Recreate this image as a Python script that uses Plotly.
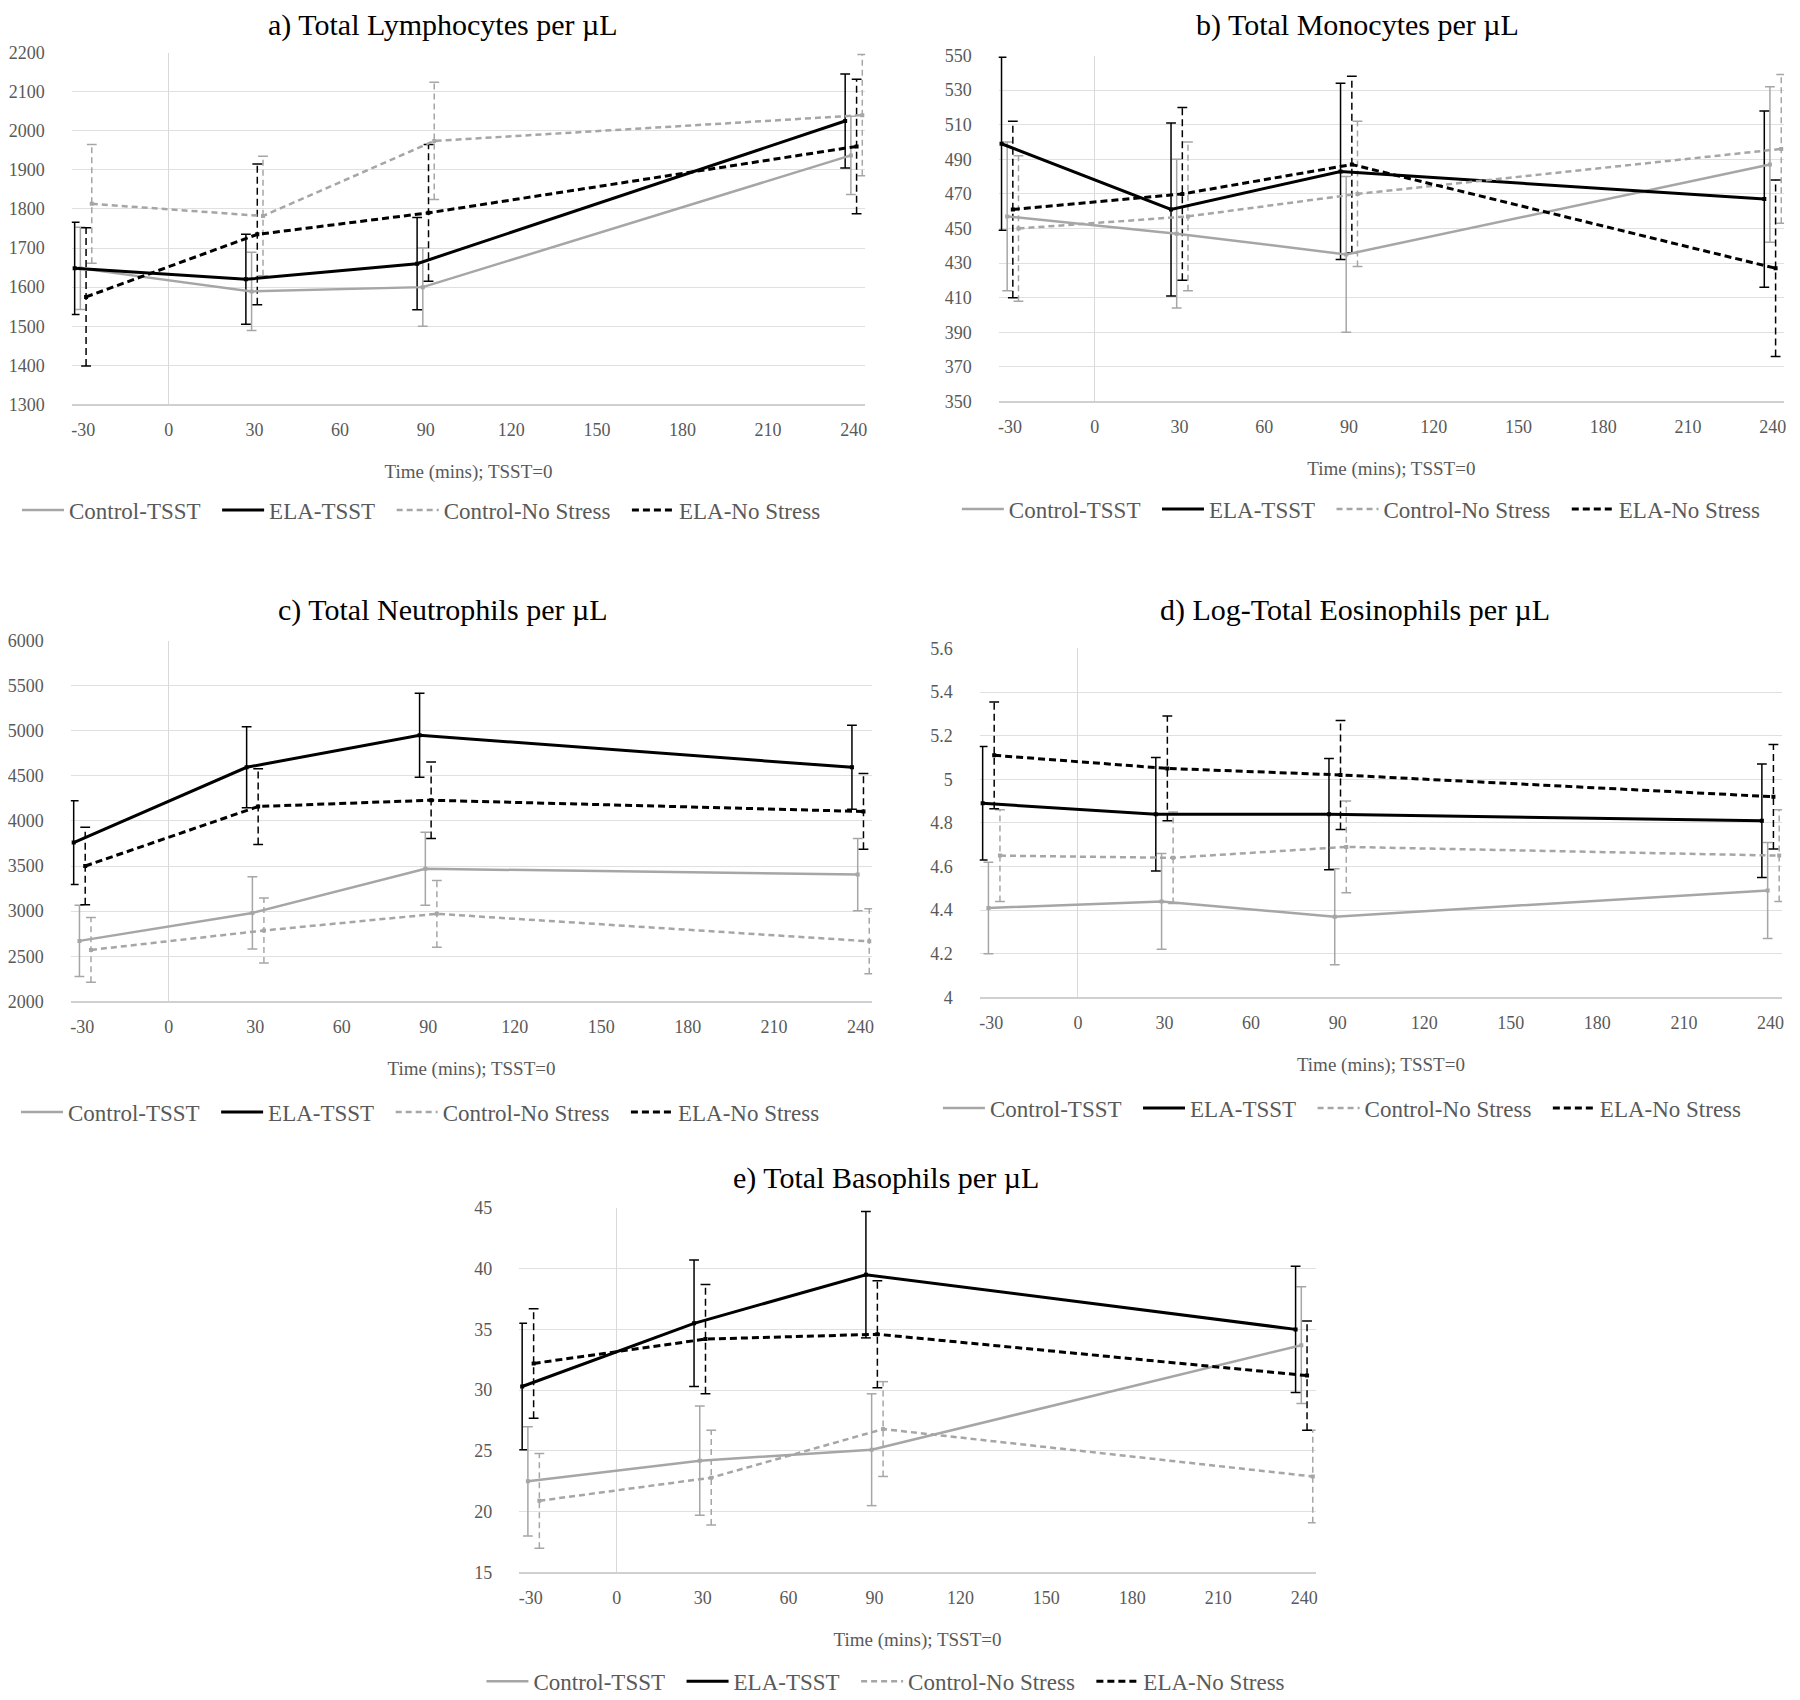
import plotly.graph_objects as go

# Time points (mins), TSST=0
times = [-30, 30, 90, 240]
x_ticks = [-30, 0, 30, 60, 90, 120, 150, 180, 210, 240]
x_tick_labels = ["-30", "0", "30", "60", "90", "120", "150", "180", "210", "240"]
series = ["Control-TSST", "ELA-TSST", "Control-No Stress", "ELA-No Stress"]

# a) Total Lymphocytes per uL
lym_ctrl_tsst = [1648, 1589, 1600, 1937]
lym_ctrl_tsst_err = [105, 100, 100, 100]
lym_ela_tsst = [1648, 1620, 1660, 2025]
lym_ela_tsst_err = [118, 115, 118, 120]
lym_ctrl_ns = [1813, 1782, 1974, 2040]
lym_ctrl_ns_err = [152, 153, 150, 155]
lym_ela_ns = [1575, 1735, 1790, 1960]
lym_ela_ns_err = [177, 180, 175, 172]

# b) Total Monocytes per uL
mono_ctrl_tsst = [457, 447, 435, 487]
mono_ctrl_tsst_err = [43, 43, 45, 45]
mono_ela_tsst = [499, 461, 483, 467]
mono_ela_tsst_err = [50, 50, 51, 51]
mono_ctrl_ns = [450, 457, 470, 496]
mono_ctrl_ns_err = [42, 43, 42, 43]
mono_ela_ns = [461, 470, 487, 427]
mono_ela_ns_err = [51, 50, 51, 51]

# c) Total Neutrophils per uL
neut_ctrl_tsst = [2670, 2980, 3470, 3405]
neut_ctrl_tsst_err = [395, 400, 405, 400]
neut_ela_tsst = [3760, 4595, 4950, 4595]
neut_ela_tsst_err = [465, 450, 465, 465]
neut_ctrl_ns = [2570, 2785, 2970, 2665]
neut_ctrl_ns_err = [360, 360, 370, 360]
neut_ela_ns = [3500, 4160, 4230, 4105]
neut_ela_ns_err = [430, 420, 425, 420]

# d) Log-Total Eosinophils per uL
eos_ctrl_tsst = [4.41, 4.44, 4.37, 4.49]
eos_ctrl_tsst_err = [0.21, 0.22, 0.22, 0.22]
eos_ela_tsst = [4.89, 4.84, 4.84, 4.81]
eos_ela_tsst_err = [0.26, 0.26, 0.255, 0.26]
eos_ctrl_ns = [4.65, 4.64, 4.69, 4.65]
eos_ctrl_ns_err = [0.21, 0.21, 0.21, 0.21]
eos_ela_ns = [5.11, 5.05, 5.02, 4.92]
eos_ela_ns_err = [0.245, 0.24, 0.25, 0.24]

# e) Total Basophils per uL
baso_ctrl_tsst = [22.5, 24.2, 25.1, 33.7]
baso_ctrl_tsst_err = [4.5, 4.5, 4.6, 4.8]
baso_ela_tsst = [30.3, 35.5, 39.5, 35.0]
baso_ela_tsst_err = [5.2, 5.2, 5.2, 5.2]
baso_ctrl_ns = [20.9, 22.8, 26.8, 22.9]
baso_ctrl_ns_err = [3.9, 3.9, 3.9, 3.8]
baso_ela_ns = [32.2, 34.2, 34.6, 31.2]
baso_ela_ns_err = [4.5, 4.5, 4.4, 4.5]

titles = [
    "a) Total Lymphocytes per µL",
    "b) Total Monocytes per µL",
    "c) Total Neutrophils per µL",
    "d) Log-Total Eosinophils per µL",
    "e) Total Basophils per µL",
]

panels = [
    [(lym_ctrl_tsst, lym_ctrl_tsst_err), (lym_ela_tsst, lym_ela_tsst_err),
     (lym_ctrl_ns, lym_ctrl_ns_err), (lym_ela_ns, lym_ela_ns_err)],
    [(mono_ctrl_tsst, mono_ctrl_tsst_err), (mono_ela_tsst, mono_ela_tsst_err),
     (mono_ctrl_ns, mono_ctrl_ns_err), (mono_ela_ns, mono_ela_ns_err)],
    [(neut_ctrl_tsst, neut_ctrl_tsst_err), (neut_ela_tsst, neut_ela_tsst_err),
     (neut_ctrl_ns, neut_ctrl_ns_err), (neut_ela_ns, neut_ela_ns_err)],
    [(eos_ctrl_tsst, eos_ctrl_tsst_err), (eos_ela_tsst, eos_ela_tsst_err),
     (eos_ctrl_ns, eos_ctrl_ns_err), (eos_ela_ns, eos_ela_ns_err)],
    [(baso_ctrl_tsst, baso_ctrl_tsst_err), (baso_ela_tsst, baso_ela_tsst_err),
     (baso_ctrl_ns, baso_ctrl_ns_err), (baso_ela_ns, baso_ela_ns_err)],
]

# y axis ranges and tick steps for each panel
y_ranges = [(1300, 2200, 100), (350, 550, 20), (2000, 6000, 500), (4, 5.6, 0.2), (15, 45, 5)]

# line styles; "shift" nudges each group sideways like the original chart
styles = {
    "Control-TSST": dict(color="#a6a6a6", dash="solid", width=2.5, shift=-1),
    "ELA-TSST": dict(color="#000000", dash="solid", width=3, shift=-3),
    "Control-No Stress": dict(color="#a6a6a6", dash="6px,4px", width=2.5, shift=3),
    "ELA-No Stress": dict(color="#000000", dash="7px,4px", width=3, shift=1),
}

W, H = 1800, 1700

# plot areas in pixels: (left, right, top, bottom)
boxes = [
    (60, 856, 35, 391),
    (990, 1778, 38, 388),
    (59, 863, 630, 995),
    (971, 1776, 638, 991),
    (509, 1308, 1204, 1573),
]
title_pos = [(432, 7), (1350, 7), (432, 599), (1347, 599), (877, 1174)]
legend_pos = [(5, 498), (948, 497), (4, 1107), (929, 1103), (471, 1683)]

serif = "Liberation Serif"
grey_text = "#595959"
pad = "\u00a0\u00a0"

fig = go.Figure()
layout = {}

for k, (data, box) in enumerate(zip(panels, boxes)):
    n = "" if k == 0 else str(k + 1)
    xa, ya = "x" + n, "y" + n
    leg = "legend" + n

    # error bars first so the lines sit on top
    for name, (vals, errs) in zip(series, data):
        st = styles[name]
        ex, ey = [], []
        for t, v, e in zip(times, vals, errs):
            ex += [t + st["shift"], t + st["shift"], None]
            ey += [v - e, v + e, None]
        fig.add_trace(go.Scatter(
            x=ex, y=ey, mode="lines+markers", xaxis=xa, yaxis=ya,
            line=dict(color=st["color"], width=1.5, dash=st["dash"]),
            marker=dict(symbol="line-ew", size=7, line=dict(color=st["color"], width=1.5)),
            showlegend=False, hoverinfo="skip"))

    for name, (vals, errs) in zip(series, data):
        st = styles[name]
        fig.add_trace(go.Scatter(
            x=[t + st["shift"] for t in times], y=vals, name=name,
            mode="lines+markers", xaxis=xa, yaxis=ya, showlegend=False,
            line=dict(color=st["color"], width=st["width"], dash=st["dash"]),
            marker=dict(symbol="square", size=4, color=st["color"])))

    # legend keys: line only, like the original
    for i, name in enumerate(series):
        st = styles[name]
        fig.add_trace(go.Scatter(
            x=[None], y=[None], name=name + (pad if i < 3 else ""),
            mode="lines", xaxis=xa, yaxis=ya, legend=leg,
            line=dict(color=st["color"], width=st["width"], dash=st["dash"])))

    left, right, top, bottom = box
    lo, hi, step = y_ranges[k]
    layout["xaxis" + n] = dict(
        domain=[left / W, right / W], anchor=ya, range=[-34, 244],
        tickvals=x_ticks, ticktext=x_tick_labels,
        showgrid=False, zeroline=True, zerolinecolor="#d9d9d9", zerolinewidth=1,
        showline=True, linecolor="#d0d0d0", linewidth=1.5,
        ticklabelstandoff=8,
        tickfont=dict(family=serif, size=18, color=grey_text),
        title=dict(text="Time (mins); TSST=0", standoff=26,
                   font=dict(family=serif, size=19, color=grey_text)))
    nt = int(round((hi - lo) / step))
    layout["yaxis" + n] = dict(
        domain=[1 - bottom / H, 1 - top / H], anchor=xa, range=[lo, hi],
        tickvals=[round(lo + i * step, 4) for i in range(nt + 1)],
        showgrid=True, gridcolor="#e0e0e0", gridwidth=1, zeroline=False,
        ticklabelstandoff=26,
        tickfont=dict(family=serif, size=18, color=grey_text))

    lx, ly = legend_pos[k]
    layout[leg] = dict(
        orientation="h", x=lx / W, y=1 - ly / H, xanchor="left", yanchor="middle",
        font=dict(family=serif, size=23, color=grey_text),
        bgcolor="rgba(0,0,0,0)", itemwidth=42, traceorder="normal")

annotations = []
for (tx, ty), text in zip(title_pos, titles):
    annotations.append(dict(
        text=text, x=tx / W, y=1 - ty / H, xref="paper", yref="paper",
        xanchor="center", yanchor="middle", showarrow=False,
        font=dict(family=serif, size=30, color="#000000")))

fig.update_layout(
    width=W, height=H, margin=dict(l=0, r=0, t=0, b=0),
    paper_bgcolor="white", plot_bgcolor="white",
    annotations=annotations, **layout)

fig.write_html("out.html")
